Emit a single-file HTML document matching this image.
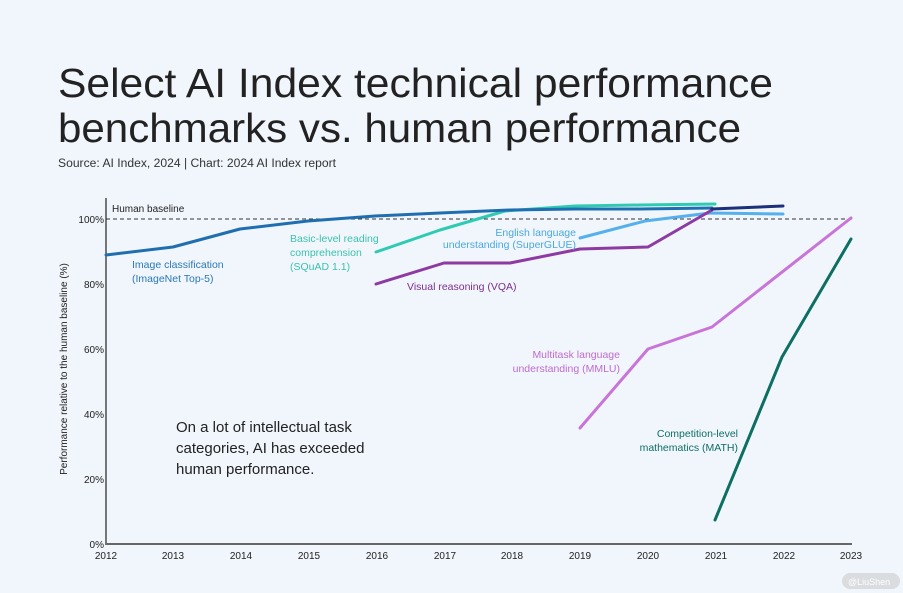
<!DOCTYPE html>
<html><head><meta charset="utf-8"><style>
html,body{margin:0;padding:0;background:#f1f6fc;}
svg{display:block;font-family:"Liberation Sans",sans-serif;}
</style></head><body>
<svg width="903" height="593" viewBox="0 0 903 593" xmlns="http://www.w3.org/2000/svg">
<rect width="903" height="593" fill="#f1f6fc"/>
<text x="58" y="97" font-size="41" fill="#222" textLength="715" lengthAdjust="spacingAndGlyphs">Select AI Index technical performance</text>
<text x="58" y="142" font-size="41" fill="#222" textLength="683" lengthAdjust="spacingAndGlyphs">benchmarks vs. human performance</text>
<text x="58" y="167" font-size="11.5" fill="#333" textLength="278" lengthAdjust="spacingAndGlyphs">Source: AI Index, 2024 | Chart: 2024 AI Index report</text>
<!-- axes -->
<line x1="106" y1="198" x2="106" y2="545" stroke="#222" stroke-width="1.2"/>
<line x1="106" y1="544" x2="852" y2="544" stroke="#666" stroke-width="2"/>
<line x1="106" y1="219" x2="852" y2="219" stroke="#333" stroke-width="1" stroke-dasharray="4,3"/>
<text x="112" y="212" font-size="10" fill="#222">Human baseline</text>
<g font-size="10" fill="#222" text-anchor="end">
<text x="104" y="223">100%</text><text x="104" y="288">80%</text><text x="104" y="353">60%</text>
<text x="104" y="418">40%</text><text x="104" y="483">20%</text><text x="104" y="548">0%</text>
</g>
<text transform="translate(67,369) rotate(-90)" font-size="10" fill="#222" text-anchor="middle">Performance relative to the human baseline (%)</text>
<g font-size="10" fill="#222" text-anchor="middle">
<text x="106" y="559">2012</text><text x="173" y="559">2013</text><text x="241" y="559">2014</text>
<text x="309" y="559">2015</text><text x="377" y="559">2016</text><text x="445" y="559">2017</text>
<text x="512" y="559">2018</text><text x="580" y="559">2019</text><text x="648" y="559">2020</text>
<text x="716" y="559">2021</text><text x="784" y="559">2022</text><text x="851" y="559">2023</text>
</g>
<g fill="none" stroke-width="3" stroke-linejoin="round" stroke-linecap="round">
<polyline stroke="#2ecbb2" points="376,252 440,230 505,211 575,206 640,205 715,204"/>
<polyline stroke="#1f6fb0" points="106,255 173,247 240,229 308,221 375,216 440,213 510,210 575,209 640,209 712,208"/>
<polyline stroke="#55b0ec" points="580,238 645,221 710,213 783,214"/>
<polyline stroke="#8e3aa3" points="376,284 444,263 510,263 580,249 648,247 712,210"/>
<polyline stroke="#1b2f7a" points="712,209 783,206"/>
<polyline stroke="#c874d9" points="580,428 648,349 712,327 851,218"/>
<polyline stroke="#0d6e62" points="715,520 782,357 851,239"/>
</g>
<g font-size="10.5">
<text x="132" y="268" fill="#2a78b8">Image classification</text>
<text x="132" y="282" fill="#2a78b8">(ImageNet Top-5)</text>
<text x="290" y="242" fill="#3cc2ad">Basic-level reading</text>
<text x="290" y="256" fill="#3cc2ad">comprehension</text>
<text x="290" y="270" fill="#3cc2ad">(SQuAD 1.1)</text>
<text x="576" y="236" fill="#4aa8e0" text-anchor="end">English language</text>
<text x="576" y="248" fill="#4aa8e0" text-anchor="end">understanding (SuperGLUE)</text>
<text x="407" y="290" fill="#7b2f8f">Visual reasoning (VQA)</text>
<text x="620" y="358" fill="#c06ad0" text-anchor="end">Multitask language</text>
<text x="620" y="372" fill="#c06ad0" text-anchor="end">understanding (MMLU)</text>
<text x="738" y="437" fill="#0e6e62" text-anchor="end">Competition-level</text>
<text x="738" y="451" fill="#0e6e62" text-anchor="end">mathematics (MATH)</text>
</g>
<g font-size="15" fill="#222">
<text x="176" y="432">On a lot of intellectual task</text>
<text x="176" y="453">categories, AI has exceeded</text>
<text x="176" y="474">human performance.</text>
</g>
<rect x="842" y="573" width="58" height="16" rx="8" fill="#ccc" opacity="0.6"/>
<text x="848" y="585" font-size="9" fill="#fff">@LiuShen</text>
</svg>
</body></html>
